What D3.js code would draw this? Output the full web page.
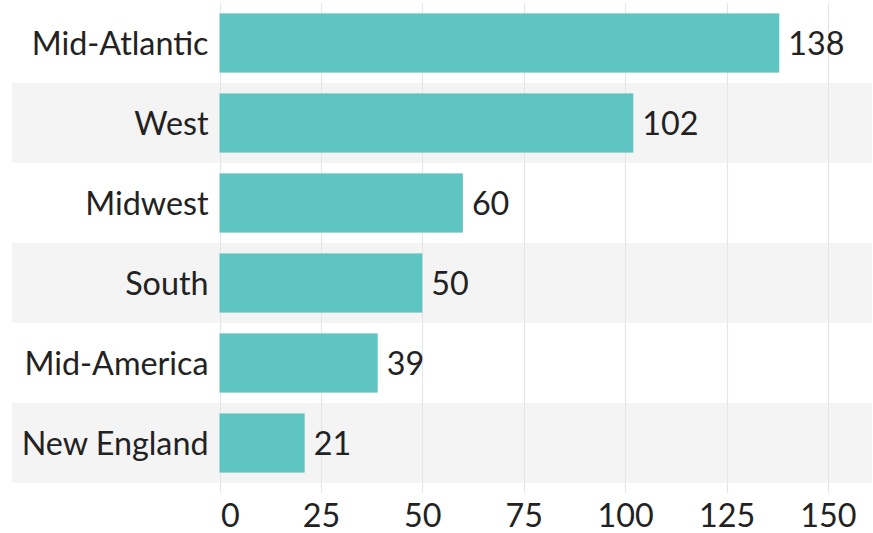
<!DOCTYPE html>
<html><head><meta charset="utf-8">
<script src="https://cdn.jsdelivr.net/npm/d3@7"></script>
<style>
html,body{margin:0;padding:0;background:#fff;}
svg{display:block;font-family:Lato, "Open Sans", sans-serif;}
</style></head>
<body>
<svg id="chart" width="873" height="533"></svg>
<script>
const categories = ["Mid-Atlantic","West","Midwest","South","Mid-America","New England"];
const values = [138,102,60,50,39,21];
const tickValues = [0,25,50,75,100,125,150];

(function(){
const W = 873, H = 533;
const svg = d3.select("#chart");
const pL = 219.5, pR = 868.5, pT = 3, pB = 483;
const x = d3.scaleLinear().domain([0,160]).range([pL,pR]);
const y = d3.scaleBand().domain(categories).range([pT,pB]).paddingInner(0).paddingOuter(0);
const inner = 0.26;
const fs = 32.3;

// row stripes
svg.append("g").selectAll("rect").data(categories).join("rect")
  .attr("x",12).attr("width",W-1-12)
  .attr("y",d=>y(d)).attr("height",y.bandwidth())
  .attr("fill",(d,i)=>i%2? "#f4f4f4":"none");

// gridlines
svg.append("g").selectAll("line").data(tickValues).join("line")
  .attr("x1",d=>Math.round(x(d))+0.5).attr("x2",d=>Math.round(x(d))+0.5)
  .attr("y1",pT).attr("y2",pB+10)
  .attr("stroke","#e6e6e6").attr("stroke-width",1.2);

// bars
const bh = y.bandwidth()*(1-inner);
svg.append("g").selectAll("rect").data(values).join("rect")
  .attr("x",x(0)).attr("width",(d)=>x(d)-x(0))
  .attr("y",(d,i)=>y(categories[i])+(y.bandwidth()-bh)/2).attr("height",bh)
  .attr("fill","#5fc5c2");

// value labels
svg.append("g").selectAll("text").data(values).join("text")
  .attr("x",d=>x(d)+9).attr("y",(d,i)=>y(categories[i])+y.bandwidth()/2)
  .attr("dy","0.36em").attr("font-size",fs).attr("fill","#222")
  .text(d=>d);

// category labels
svg.append("g").selectAll("text").data(categories).join("text")
  .attr("x",pL-11).attr("y",d=>y(d)+y.bandwidth()/2)
  .attr("dy","0.36em").attr("text-anchor","end").attr("font-size",fs).attr("fill","#222")
  .text(d=>d);

// x axis labels
const xAxis = d3.axisBottom(x).tickValues(tickValues).tickSize(0).tickPadding(0);
const ax = svg.append("g").attr("transform",`translate(0,${pB})`).call(xAxis);
ax.select(".domain").remove();
ax.selectAll("text").attr("font-size",fs).attr("font-family","Lato").attr("fill","#222")
  .attr("dy",null).attr("y",44)
  .attr("text-anchor",(d,i)=> i===0 ? "start" : "middle")
  .attr("x",(d,i)=> i===0 ? 1 : 0);
})();
</script>
</body></html>
